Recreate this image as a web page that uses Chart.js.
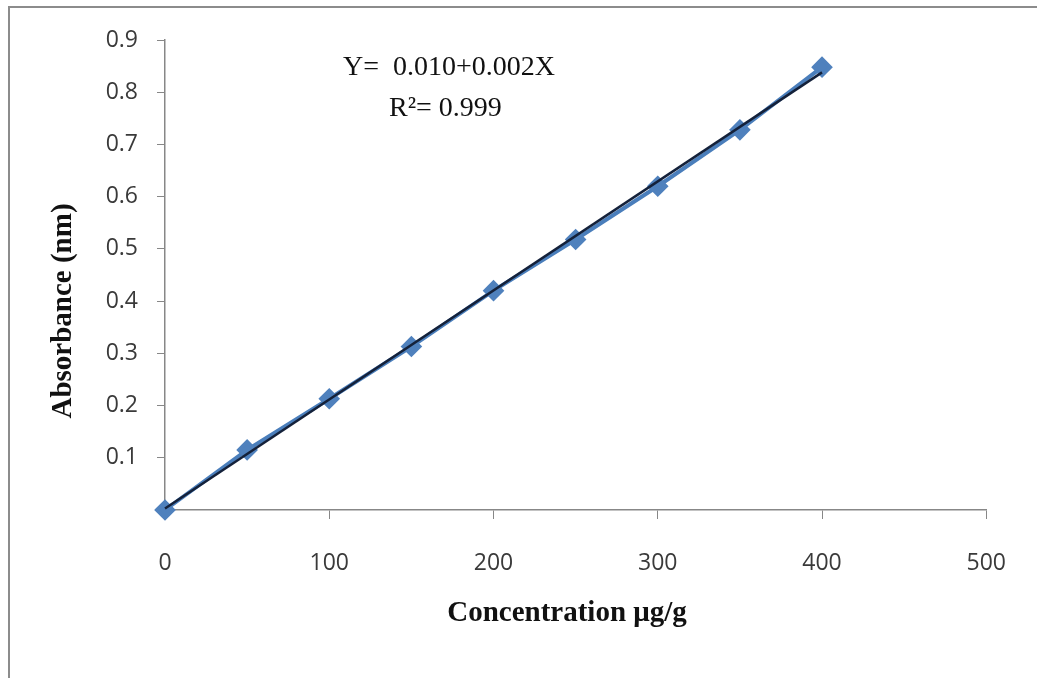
<!DOCTYPE html>
<html>
<head>
    <script src="https://cdn.jsdelivr.net/npm/chart.js@4.4.1/dist/chart.umd.min.js"></script>
    <style>
        body {
            margin: 0;
            background: #ffffff;
        }
    </style>
    <title>Absorbance calibration</title>
</head>
<body>
    <canvas id="myChart" width="1037" height="678"></canvas>

    <script>
        // concentration (ug/g) and absorbance
        var concentration = [0, 50, 100, 150, 200, 250, 300, 350, 400];
        var absorbance = [0.0, 0.115, 0.213, 0.313, 0.420, 0.518, 0.620, 0.728, 0.848];

        // trendline end points
        var trendX = [0, 400];
        var trendY = [0.003, 0.838];

        var eqLine1 = 'Y=  0.010+0.002X';
        var eqLine2 = 'R\u00B2= 0.999';
        var xTitle = 'Concentration \u03BCg/g';
        var yTitle = 'Absorbance (nm)';

        var axisColor = '#878787';
        var tickFont = { family: '"Open Sans", Lato, sans-serif', size: 23 };

        function toPoints(xs, ys) {
            var pts = [];
            for (var i = 0; i < xs.length; i++) {
                pts.push({ x: xs[i], y: ys[i] });
            }
            return pts;
        }

        // frame, equation text and axis titles
        var extras = {
            id: 'extras',
            beforeDraw: function (chart) {
                var c = chart.ctx;
                c.save();
                c.fillStyle = '#ffffff';
                c.fillRect(0, 0, chart.width, chart.height);
                c.strokeStyle = '#8c8c8c';
                c.lineWidth = 2;
                c.beginPath();
                c.moveTo(9, chart.height);
                c.lineTo(9, 7);
                c.lineTo(chart.width, 7);
                c.stroke();
                c.restore();
            },
            afterDraw: function (chart) {
                var c = chart.ctx;
                c.save();
                c.fillStyle = '#111111';
                c.textBaseline = 'middle';
                c.font = '28px "Liberation Serif", serif';
                c.textAlign = 'left';
                c.fillText(eqLine1, 343, 68);
                c.fillText(eqLine2, 389, 109);

                c.font = 'bold 29px "Liberation Serif", serif';
                c.textAlign = 'center';
                c.fillText(xTitle, 567, 614);

                c.translate(64, 311);
                c.rotate(-Math.PI / 2);
                c.fillText(yTitle, 0, 0);
                c.restore();
            }
        };

        var ctx = document.getElementById('myChart').getContext('2d');

        var myChart = new Chart(ctx, {
            type: 'scatter',
            data: {
                datasets: [{
                    label: 'Trendline',
                    data: toPoints(trendX, trendY),
                    showLine: true,
                    borderColor: '#14213a',
                    borderWidth: 2.5,
                    pointRadius: 0,
                    clip: false,
                    order: 0
                }, {
                    label: 'Absorbance',
                    data: toPoints(concentration, absorbance),
                    showLine: true,
                    borderColor: '#4a7ebb',
                    borderWidth: 4,
                    pointStyle: 'rectRot',
                    pointRadius: 8,
                    pointBackgroundColor: '#4f81bd',
                    pointBorderColor: '#4f81bd',
                    clip: false,
                    order: 1
                }]
            },
            options: {
                responsive: false,
                animation: false,
                layout: {
                    padding: { left: 0, top: 40, right: 42, bottom: 0 }
                },
                plugins: {
                    legend: { display: false },
                    tooltip: { enabled: false }
                },
                scales: {
                    x: {
                        type: 'linear',
                        min: 0,
                        max: 500,
                        ticks: {
                            stepSize: 100,
                            color: '#3a3a3a',
                            font: tickFont,
                            padding: 31
                        },
                        grid: {
                            display: true,
                            drawOnChartArea: false,
                            drawTicks: true,
                            tickLength: 9,
                            color: axisColor
                        },
                        border: { display: true, color: axisColor, width: 1.5 },
                        afterFit: function (scale) {
                            scale.height = 168;
                        }
                    },
                    y: {
                        min: 0,
                        max: 0.9,
                        ticks: {
                            stepSize: 0.1,
                            color: '#3a3a3a',
                            font: tickFont,
                            padding: 19,
                            callback: function (v) {
                                if (v === 0) return '';
                                return v.toFixed(1);
                            }
                        },
                        grid: {
                            display: true,
                            drawOnChartArea: false,
                            drawTicks: true,
                            tickLength: 8,
                            color: axisColor
                        },
                        border: { display: true, color: axisColor, width: 1.5 },
                        afterFit: function (scale) {
                            scale.width = 165;
                        }
                    }
                }
            },
            plugins: [extras]
        });
    </script>
</body>
</html>
